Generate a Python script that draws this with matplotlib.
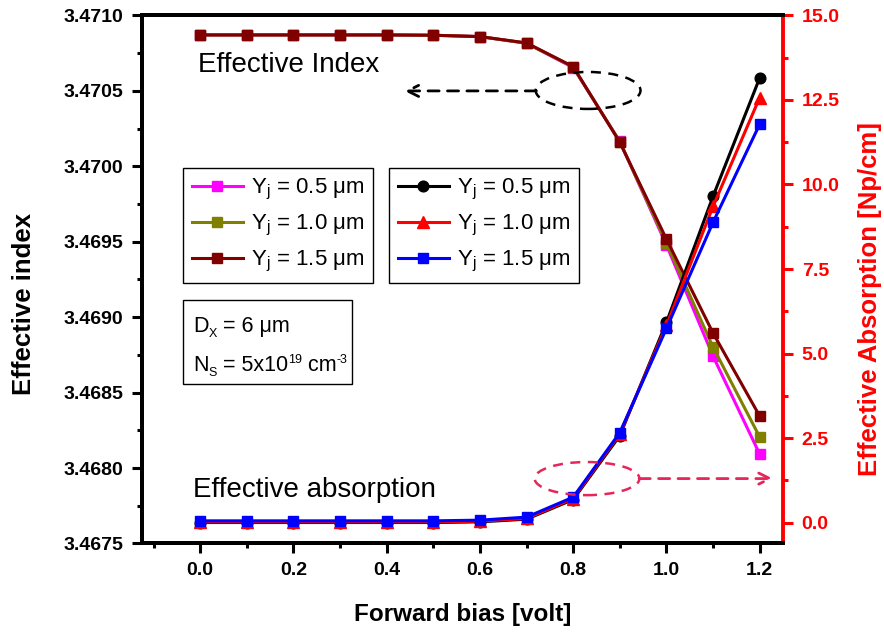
import matplotlib
matplotlib.use("Agg")
import matplotlib.pyplot as plt
from matplotlib.patches import Ellipse, Rectangle
from matplotlib.ticker import MultipleLocator, FormatStrFormatter

plt.rcParams['font.family'] = ['Liberation Sans', 'DejaVu Sans']
plt.rcParams['mathtext.fontset'] = 'custom'
plt.rcParams['mathtext.rm'] = 'Liberation Sans'
plt.rcParams['mathtext.it'] = 'Liberation Sans:italic'
plt.rcParams['mathtext.bf'] = 'Liberation Sans:bold'

# Forward bias [V]
bias = [0.0, 0.1, 0.2, 0.3, 0.4, 0.5, 0.6, 0.7, 0.8, 0.9, 1.0, 1.1, 1.2]

# Effective index for junction depths Yj = 0.5, 1.0, 1.5 um
index_05 = [3.470871, 3.470871, 3.470871, 3.470871, 3.470871, 3.470869, 3.470860,
            3.470816, 3.470655, 3.470165, 3.469479, 3.468742, 3.468093]
index_10 = [3.470871, 3.470871, 3.470871, 3.470871, 3.470871, 3.470869, 3.470860,
            3.470816, 3.470658, 3.470163, 3.469492, 3.468802, 3.468206]
index_15 = [3.470871, 3.470871, 3.470871, 3.470871, 3.470871, 3.470869, 3.470860,
            3.470818, 3.470661, 3.470160, 3.469518, 3.468895, 3.468345]

# Effective absorption [Np/cm] for Yj = 0.5, 1.0, 1.5 um
absorp_05 = [0.00, 0.00, 0.00, 0.00, 0.00, 0.00, 0.02, 0.10, 0.68, 2.57, 5.92, 9.65, 13.15]
absorp_10 = [0.02, 0.02, 0.02, 0.02, 0.02, 0.02, 0.04, 0.12, 0.71, 2.62, 5.83, 9.35, 12.57]
absorp_15 = [0.05, 0.05, 0.05, 0.05, 0.05, 0.05, 0.07, 0.16, 0.75, 2.66, 5.74, 8.88, 11.78]

labels = [r'Y$_\mathrm{j}$ = 0.5 $\mathrm{\mu}$m',
          r'Y$_\mathrm{j}$ = 1.0 $\mathrm{\mu}$m',
          r'Y$_\mathrm{j}$ = 1.5 $\mathrm{\mu}$m']

RED = '#ff0000'
ANNOT_RED = '#e6265a'

fig = plt.figure(figsize=(8.84, 6.37), dpi=100)
ax = fig.add_axes([0.1606, 0.1468, 0.7251, 0.8289])
ax2 = ax.twinx()

lw = 2.2
ms = 7.7
l1, = ax.plot(bias, index_05, color='#ff00ff', marker='s', ms=ms, lw=lw, label=labels[0])
l2, = ax.plot(bias, index_10, color='#808000', marker='s', ms=ms, lw=lw, label=labels[1])
l3, = ax.plot(bias, index_15, color='#800000', marker='s', ms=ms, lw=lw, label=labels[2])

m1, = ax2.plot(bias, absorp_05, color='black', marker='o', ms=ms, lw=lw, label=labels[0])
m2, = ax2.plot(bias, absorp_10, color=RED, marker='^', ms=ms + 1, lw=lw, label=labels[1])
m3, = ax2.plot(bias, absorp_15, color='#0000ff', marker='s', ms=ms, lw=lw, label=labels[2])

ax.set_xlim(-0.125, 1.25)
ax.set_ylim(3.4675, 3.4710)
ax2.set_ylim(-0.62, 15.0)

ax.xaxis.set_major_locator(MultipleLocator(0.2))
ax.xaxis.set_minor_locator(MultipleLocator(0.1))
ax.xaxis.set_major_formatter(FormatStrFormatter('%.1f'))
ax.yaxis.set_major_locator(MultipleLocator(0.0005))
ax.yaxis.set_minor_locator(MultipleLocator(0.00025))
ax.yaxis.set_major_formatter(FormatStrFormatter('%.4f'))
ax2.yaxis.set_major_locator(MultipleLocator(2.5))
ax2.yaxis.set_minor_locator(MultipleLocator(1.25))
ax2.yaxis.set_major_formatter(FormatStrFormatter('%.1f'))

spine_w = 2.8
for s in ['left', 'bottom', 'top']:
    ax.spines[s].set_linewidth(spine_w)
    ax2.spines[s].set_linewidth(spine_w)
ax2.spines['right'].set_linewidth(spine_w)
ax2.spines['right'].set_color(RED)
ax.spines['right'].set_visible(False)

ax.tick_params(axis='both', which='major', direction='out', length=7, width=2.2,
               labelsize=14, pad=6.5)
ax.tick_params(axis='both', which='minor', direction='out', length=3.5, width=2.2)
ax2.tick_params(axis='y', which='major', direction='out', length=7, width=2.2,
                color=RED, labelcolor=RED, labelsize=14, pad=6.5)
ax2.tick_params(axis='y', which='minor', direction='out', length=3.5, width=2.2, color=RED)
for t in ax.get_xticklabels() + ax.get_yticklabels() + ax2.get_yticklabels():
    t.set_fontweight('bold')

ax.set_xlabel('Forward bias [volt]', fontsize=17.5, fontweight='bold')
ax.xaxis.set_label_coords(0.5, -0.112)
ax.set_ylabel('Effective index', fontsize=18.5, fontweight='bold')
ax.yaxis.set_label_coords(-0.1654, 0.4536)
ax2.set_ylabel('Effective Absorption [Np/cm]', fontsize=18.5, fontweight='bold', color=RED)
ax2.yaxis.set_label_coords(1.117, 0.463)

# Legends for the two groups of curves
leg_kw = dict(loc='upper left', fontsize=16, frameon=True, fancybox=False,
              edgecolor='black', framealpha=1, handlelength=2.3, handletextpad=0.35,
              labelspacing=0.5, borderpad=0.4, borderaxespad=0)
leg1 = ax2.legend(handles=[l1, l2, l3], bbox_to_anchor=(0.064, 0.711), **leg_kw)
leg1.get_frame().set_linewidth(1.0)
ax2.add_artist(leg1)
leg2 = ax2.legend(handles=[m1, m2, m3], bbox_to_anchor=(0.385, 0.711), **leg_kw)
leg2.get_frame().set_linewidth(1.0)

# Device parameters box, with small sub/superscripts laid out piece by piece
ax2.add_patch(Rectangle((0.0640, 0.3021), 0.2636, 0.1591, transform=ax2.transAxes,
                        fc='white', ec='black', lw=1.0, zorder=6))


def text_run(x, y, pieces, size=15.5, small=9):
    """Draw consecutive text pieces on a shared baseline; kind is 'n', 'sub' or 'sup'."""
    prev = None
    for s, kind in pieces:
        fs = size if kind == 'n' else small
        dy = {'n': 0.0, 'sub': -3.5, 'sup': 6.0}[kind]
        if prev is None:
            prev = ax2.annotate(s, xy=(x, y), xycoords=ax2.transAxes,
                                xytext=(0, dy), textcoords='offset points',
                                fontsize=fs, ha='left', va='baseline', zorder=7)
        else:
            prev = ax2.annotate(s, xy=(1, y), xycoords=(prev, ax2.transAxes),
                                xytext=(0, dy), textcoords='offset points',
                                fontsize=fs, ha='left', va='baseline', zorder=7)


text_run(0.0796, 0.4000, [('D', 'n'), ('X', 'sub'), (' = 6 \u03bcm', 'n')])
text_run(0.0796, 0.3262, [('N', 'n'), ('S', 'sub'), (' = 5x10', 'n'), ('19', 'sup'),
                          (' cm', 'n'), ('-3', 'sup')])

# Curve annotations
ax.text(-0.005, 3.470672, 'Effective Index', fontsize=20, ha='left', va='center')
ax2.text(-0.016, 0.95, 'Effective absorption', fontsize=20, ha='left', va='center')

ax.add_patch(Ellipse((0.832, 3.470503), 0.2248, 0.000245, fill=False, ec='black',
                     lw=1.8, ls=(0, (4, 3)), zorder=5))
ax.annotate('', xy=(0.438, 3.4705), xytext=(0.721, 3.4705),
            arrowprops=dict(arrowstyle='->', color='black', lw=2.0, ls=(0, (4, 3)),
                            shrinkA=0, shrinkB=0, mutation_scale=20))

ax2.add_patch(Ellipse((0.8297, 1.30), 0.2248, 0.98, fill=False, ec=ANNOT_RED,
                      lw=1.8, ls=(0, (4, 3)), zorder=5))
ax2.annotate('', xy=(1.2285, 1.30), xytext=(0.9415, 1.30),
             arrowprops=dict(arrowstyle='->', color=ANNOT_RED, lw=2.0, ls=(0, (4, 3)),
                             shrinkA=0, shrinkB=0, mutation_scale=20))

fig.savefig('out.png', dpi=100)
